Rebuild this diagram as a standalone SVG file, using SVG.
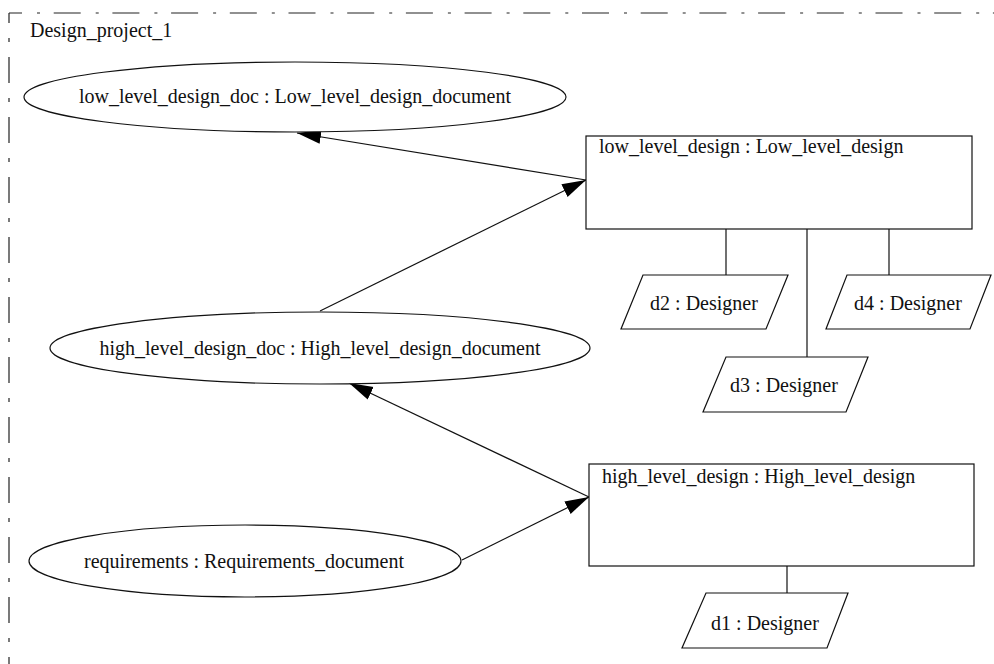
<svg xmlns="http://www.w3.org/2000/svg" width="994" height="664" viewBox="0 0 994 664">
<style>
  text { font-family: "Liberation Serif", "Times New Roman", serif; font-size: 20px; fill: #111; }
  .mid { text-anchor: middle; }
  .shape { fill: #fff; stroke: #111; stroke-width: 1.2; }
  .link { fill: none; stroke: #111; stroke-width: 1.2; }
  .border { fill: none; stroke: #222; stroke-width: 1.2; }
</style>
<defs>
  <marker id="arrow" markerUnits="userSpaceOnUse" markerWidth="25" markerHeight="15" refX="24" refY="7" orient="auto">
    <path d="M0,0 L24,7 L0,14 z" fill="#000"/>
  </marker>
</defs>
<rect x="0" y="0" width="994" height="664" fill="#fff"/>

<g id="frame">
  <path class="border" d="M9,13 H994" stroke-dasharray="27,15,3,13.7" stroke-dashoffset="14"/>
  <path class="border" d="M9,13 V664" stroke-dasharray="26,15,4,15" stroke-dashoffset="16"/>
  <text x="30" y="37">Design_project_1</text>
</g>

<g id="connectors">
  <line class="link" x1="586" y1="180" x2="297" y2="133" marker-end="url(#arrow)"/>
  <line class="link" x1="320" y1="311" x2="586" y2="180" marker-end="url(#arrow)"/>
  <line class="link" x1="589" y1="497" x2="349" y2="383" marker-end="url(#arrow)"/>
  <line class="link" x1="462" y1="560" x2="589" y2="497" marker-end="url(#arrow)"/>
  <line class="link" x1="726" y1="229" x2="726" y2="275"/>
  <line class="link" x1="807" y1="229" x2="807" y2="357"/>
  <line class="link" x1="889" y1="229" x2="889" y2="275"/>
  <line class="link" x1="787" y1="566" x2="787" y2="593"/>
</g>

<g id="low_level_design_doc">
  <ellipse class="shape" cx="295" cy="97" rx="271" ry="35"/>
  <text class="mid" x="295" y="103">low_level_design_doc : Low_level_design_document</text>
</g>

<g id="high_level_design_doc">
  <ellipse class="shape" cx="320" cy="348" rx="270" ry="36"/>
  <text class="mid" x="320" y="355">high_level_design_doc : High_level_design_document</text>
</g>

<g id="requirements">
  <ellipse class="shape" cx="245" cy="561" rx="216" ry="36"/>
  <text class="mid" x="244" y="568">requirements : Requirements_document</text>
</g>

<g id="low_level_design">
  <rect class="shape" x="586" y="136" width="386" height="93"/>
  <text x="599" y="153">low_level_design : Low_level_design</text>
</g>

<g id="high_level_design">
  <rect class="shape" x="589" y="464" width="385" height="102"/>
  <text x="602" y="483">high_level_design : High_level_design</text>
</g>

<g id="d2">
  <polygon class="shape" points="643,275 788,275 766,329 621,329"/>
  <text class="mid" x="704" y="310">d2 : Designer</text>
</g>

<g id="d4">
  <polygon class="shape" points="847,275 991,275 970,329 826,329"/>
  <text class="mid" x="908" y="310">d4 : Designer</text>
</g>

<g id="d3">
  <polygon class="shape" points="726,357 868,357 846,412 703,412"/>
  <text class="mid" x="784" y="392">d3 : Designer</text>
</g>

<g id="d1">
  <polygon class="shape" points="706,593 848,593 827,648 682,648"/>
  <text class="mid" x="765" y="630">d1 : Designer</text>
</g>
</svg>
